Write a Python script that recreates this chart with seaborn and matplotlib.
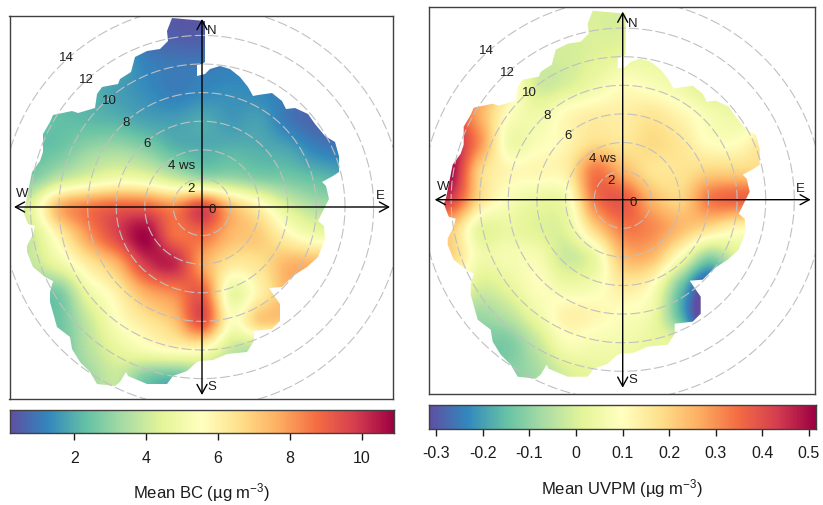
import numpy as np
import matplotlib
matplotlib.use("Agg")
import matplotlib.pyplot as plt
from matplotlib.patches import Polygon
import seaborn as sns

# Mean concentration read on a 2 m/s grid: east -14..14 (columns), north 14..-14 (rows)
grid_ws = [-14, -12, -10, -8, -6, -4, -2, 0, 2, 4, 6, 8, 10, 12, 14]
bc_values = [
    [2.0, 2.0, 2.0, 2.0, 1.8, 0.8, 0.4, 0.4, 1.0, 1.5, 1.5, 1.5, 1.5, 1.5, 1.5],
    [2.0, 2.0, 2.0, 2.0, 1.8, 0.8, 0.5, 0.5, 1.0, 1.5, 1.5, 1.5, 1.5, 1.5, 1.5],
    [2.0, 2.0, 2.0, 2.0, 1.9, 1.2, 1.0, 1.0, 1.1, 1.2, 1.1, 1.0, 1.0, 1.0, 1.0],
    [2.2, 2.2, 2.2, 2.1, 1.7, 1.4, 1.1, 1.3, 1.4, 1.3, 1.0, 0.7, 0.7, 0.7, 0.7],
    [2.4, 2.4, 2.3, 2.2, 2.1, 1.8, 1.7, 1.9, 1.6, 1.7, 1.0, 0.6, 0.6, 0.6, 0.6],
    [2.4, 2.3, 2.5, 3.1, 3.3, 2.9, 2.2, 2.0, 2.1, 2.0, 1.8, 1.2, 1.0, 1.0, 1.0],
    [3.0, 2.8, 3.8, 4.5, 5.0, 4.8, 4.0, 3.3, 3.2, 2.8, 2.6, 2.3, 2.0, 2.0, 2.0],
    [3.5, 4.5, 7.5, 8.5, 9.0, 9.0, 8.3, 9.5, 7.3, 5.9, 4.3, 3.5, 3.4, 3.4, 3.4],
    [3.5, 4.0, 6.0, 8.0, 9.6, 10.8, 8.8, 8.7, 7.4, 7.0, 5.8, 5.0, 5.0, 5.0, 5.0],
    [3.5, 3.8, 4.8, 6.2, 7.5, 9.8, 10.2, 7.8, 6.3, 6.5, 7.5, 7.5, 7.5, 7.5, 7.5],
    [2.7, 2.7, 2.7, 4.8, 6.0, 7.6, 8.3, 9.0, 4.8, 6.0, 7.5, 7.5, 7.5, 7.5, 7.5],
    [2.5, 2.5, 2.5, 3.9, 5.4, 6.3, 7.2, 9.3, 5.5, 7.0, 7.0, 7.0, 7.0, 7.0, 7.0],
    [2.5, 2.5, 2.5, 3.6, 4.6, 5.2, 5.6, 5.5, 3.9, 3.5, 3.5, 3.5, 3.5, 3.5, 3.5],
    [2.8, 2.8, 2.8, 3.2, 3.9, 2.6, 2.2, 3.0, 3.2, 3.3, 3.3, 3.3, 3.3, 3.3, 3.3],
    [2.8, 2.8, 2.8, 3.2, 3.9, 2.6, 2.2, 3.0, 3.2, 3.3, 3.3, 3.3, 3.3, 3.3, 3.3],
]
uvpm_values = [
    [.20, .20, .20, .10, .00, .00, .00, .00, .05, .05, .05, .05, .05, .05, .05],
    [.20, .20, .20, .10, .00, .00, .00, .00, .05, .05, .05, .05, .05, .05, .05],
    [.20, .20, .20, .10, .00, -.01, .01, .03, .04, .04, .04, .03, .03, .03, .03],
    [.30, .30, .30, .15, -.01, .00, .05, .10, .08, .05, .00, .00, .00, .00, .00],
    [.45, .40, .26, .10, .05, .11, .14, .14, .16, .12, .07, .04, .05, .05, .05],
    [.50, .48, .30, .06, .08, .12, .18, .16, .19, .16, .10, .10, .17, .17, .17],
    [.50, .50, .20, .12, .12, .14, .33, .25, .17, .17, .20, .20, .20, .20, .20],
    [.45, .42, .18, .08, .04, .06, .33, .38, .25, .20, .33, .36, .36, .36, .36],
    [.25, .22, .03, .04, .01, .02, .20, .33, .31, .24, .18, .12, .12, .12, .12],
    [.20, .20, .06, .07, .07, -.02, .04, .24, .24, .08, -.10, .00, .00, .00, .00],
    [.10, .10, .00, .03, .09, .05, .07, .15, .10, -.13, -.32, -.10, -.10, -.10, -.10],
    [-.05, -.05, -.08, -.04, .05, .13, .12, .09, .05, -.17, -.40, -.30, -.30, -.30, -.30],
    [-.12, -.12, -.12, -.12, -.03, .08, .07, .06, .03, -.01, -.30, -.30, -.30, -.30, -.30],
    [-.12, -.12, -.12, -.11, -.07, .00, .03, .03, .00, .00, .00, .00, .00, .00, .00],
    [-.12, -.12, -.12, -.11, -.07, .00, .03, .03, .00, .00, .00, .00, .00, .00, .00],
]

edge_east_px = [-30, 3, 3, 0, -5, -5, 3, 8, 18, 28, 38, 46, 51, 56, 70, 80, 84, 93, 106, 113, 123, 133,
                137, 137, 131, 120, 124, 127, 123, 116, 122, 123, 116, 105, 91, 80, 67, 71, 78, 78, 70,
                52, 52, 45, 25, 11, -2, -5, -15, -29, -35, -55, -74, -76, -82, -87, -105, -112, -122,
                -130, -132, -145, -152, -152, -149, -157, -169, -175, -175, -169, -167, -174, -179, -177,
                -172, -170, -162, -159, -159, -152, -149, -130, -124, -107, -105, -100, -84, -82, -71,
                -67, -55, -42, -34, -35]
edge_north_px = [189, 186, 145, 143, 142, 131, 133, 138, 141, 138, 130, 120, 111, 112, 114, 106, 98, 99,
                 93, 83, 71, 65, 51, 35, 31, 25, 21, 8, 0, -14, -19, -32, -50, -60, -69, -80, -81, -87,
                 -97, -114, -122, -124, -134, -145, -147, -153, -154, -155, -164, -169, -177, -177, -169,
                 -165, -175, -179, -177, -165, -155, -142, -130, -120, -95, -85, -74, -70, -60, -45, -39,
                 -27, -19, -17, -4, 0, 25, 35, 46, 55, 73, 85, 92, 96, 94, 99, 113, 120, 123, 128, 135,
                 150, 156, 158, 166, 176]
PX_PER_WS = 14.3
edge_east = np.array(edge_east_px) / PX_PER_WS
edge_north = np.array(edge_north_px) / PX_PER_WS

ring_ws = [2, 4, 6, 8, 10, 12, 14]
ring_labels = ["2", "4 ws", "6", "8", "10", "12", "14"]
ring_label_east = [-0.8, -1.4, -3.85, -5.3, -6.5, -8.05, -9.5]
ring_label_north = [1.35, 2.95, 4.5, 5.95, 7.5, 8.95, 10.5]

bc_ticks = [2, 4, 6, 8, 10]
bc_range = (0.19, 10.89)
uvpm_ticks = [-0.3, -0.2, -0.1, 0, 0.1, 0.2, 0.3, 0.4, 0.5]
uvpm_tick_labels = ["-0.3", "-0.2", "-0.1", "0", "0.1", "0.2", "0.3", "0.4", "0.5"]
uvpm_range = (-0.3165, 0.514)

sns.set_theme(style="white")
plt.rcParams["font.family"] = ["Liberation Sans", "DejaVu Sans"]
plt.rcParams["mathtext.default"] = "regular"
cmap = sns.color_palette("Spectral_r", as_cmap=True)

W, H = 823, 506
fig = plt.figure(figsize=(W / 100, H / 100), dpi=100)
EDGE = "#404040"
INK = "#1c1c1c"


def px_axes(x0, y0, x1, y1):
    return fig.add_axes([x0 / W, 1 - y1 / H, (x1 - x0) / W, (y1 - y0) / H])


def rose(box, centre, values, vrange):
    ax = px_axes(*box)
    cx, cy = centre
    xlim = ((box[0] - cx) / PX_PER_WS, (box[2] - cx) / PX_PER_WS)
    ylim = ((cy - box[3]) / PX_PER_WS, (cy - box[1]) / PX_PER_WS)
    half = (grid_ws[1] - grid_ws[0]) / 2
    im = ax.imshow(values, cmap=cmap, vmin=vrange[0], vmax=vrange[1],
                   extent=(grid_ws[0] - half, grid_ws[-1] + half, grid_ws[0] - half, grid_ws[-1] + half),
                   origin="upper", interpolation="catrom", interpolation_stage="data", zorder=1)
    clip = Polygon(np.column_stack([edge_east, edge_north]), closed=True, transform=ax.transData)
    im.set_clip_path(clip)
    t = np.radians(np.arange(0, 361, 1))
    for r in ring_ws:
        ax.plot(r * np.cos(t), r * np.sin(t), color="#c0c0c0", lw=0.8, ls=(0, (9, 3)), zorder=2)
    for lab, e, n in zip(ring_labels, ring_label_east, ring_label_north):
        ax.text(e, n, lab, fontsize=9.5, ha="center", va="center", color=INK, zorder=4)
    reach = 188 / PX_PER_WS
    style = dict(arrowstyle="<->,head_length=0.55,head_width=0.3", color="black", lw=1.0,
                 shrinkA=0, shrinkB=0)
    ax.annotate("", xy=(reach, 0), xytext=(-reach, 0), arrowprops=style, zorder=5)
    ax.annotate("", xy=(0, reach), xytext=(0, -reach), arrowprops=style, zorder=5)
    for lab, e, n in [("N", 10, 177), ("S", 10, -179), ("E", 178, 12), ("W", -180, 14), ("0", 10, -2)]:
        ax.text(e / PX_PER_WS, n / PX_PER_WS, lab, fontsize=9.5, ha="center", va="center",
                color=INK, zorder=6)
    ax.set_xlim(xlim)
    ax.set_ylim(ylim)
    ax.set_aspect("auto")
    ax.set_xticks([])
    ax.set_yticks([])
    ax.grid(False)
    for s in ax.spines.values():
        s.set_visible(True)
        s.set_color(EDGE)
        s.set_linewidth(1.0)
    return ax


def strip(box, vrange, ticks, labels, title, label_y, title_y):
    ax = px_axes(*box)
    levels = np.linspace(vrange[0], vrange[1], 256)[None, :]
    sns.heatmap(levels, ax=ax, cmap=cmap, vmin=vrange[0], vmax=vrange[1], cbar=False,
                xticklabels=False, yticklabels=False)
    for s in ax.spines.values():
        s.set_visible(True)
        s.set_color(EDGE)
        s.set_linewidth(1.0)
    pos = (np.array(ticks) - vrange[0]) / (vrange[1] - vrange[0]) * levels.shape[1]
    ax.set_xticks(pos)
    ax.set_xticklabels([])
    ax.tick_params(axis="x", bottom=True, length=5, width=1, color=INK)
    for p, lab in zip(pos, labels):
        xp = box[0] + p / levels.shape[1] * (box[2] - box[0])
        fig.text(xp / W, 1 - label_y / H, lab, fontsize=11.5, ha="center", va="center", color=INK)
    fig.text((box[0] + box[2]) / 2 / W, 1 - title_y / H, title, fontsize=12, ha="center", va="center",
             color=INK)
    return ax


rose((9.5, 17, 393, 400), (202, 208), bc_values, bc_range)
rose((428.5, 8, 815, 395), (622.7, 200.7), uvpm_values, uvpm_range)
strip((9.5, 410.5, 393.5, 433.5), bc_range, bc_ticks, [str(v) for v in bc_ticks],
      "Mean BC (µg m$^{-3}$)", 459, 493)
strip((428.5, 406, 815.5, 429.5), uvpm_range, uvpm_ticks, uvpm_tick_labels,
      "Mean UVPM (µg m$^{-3}$)", 454, 489)

fig.savefig("out.png", dpi=100)
